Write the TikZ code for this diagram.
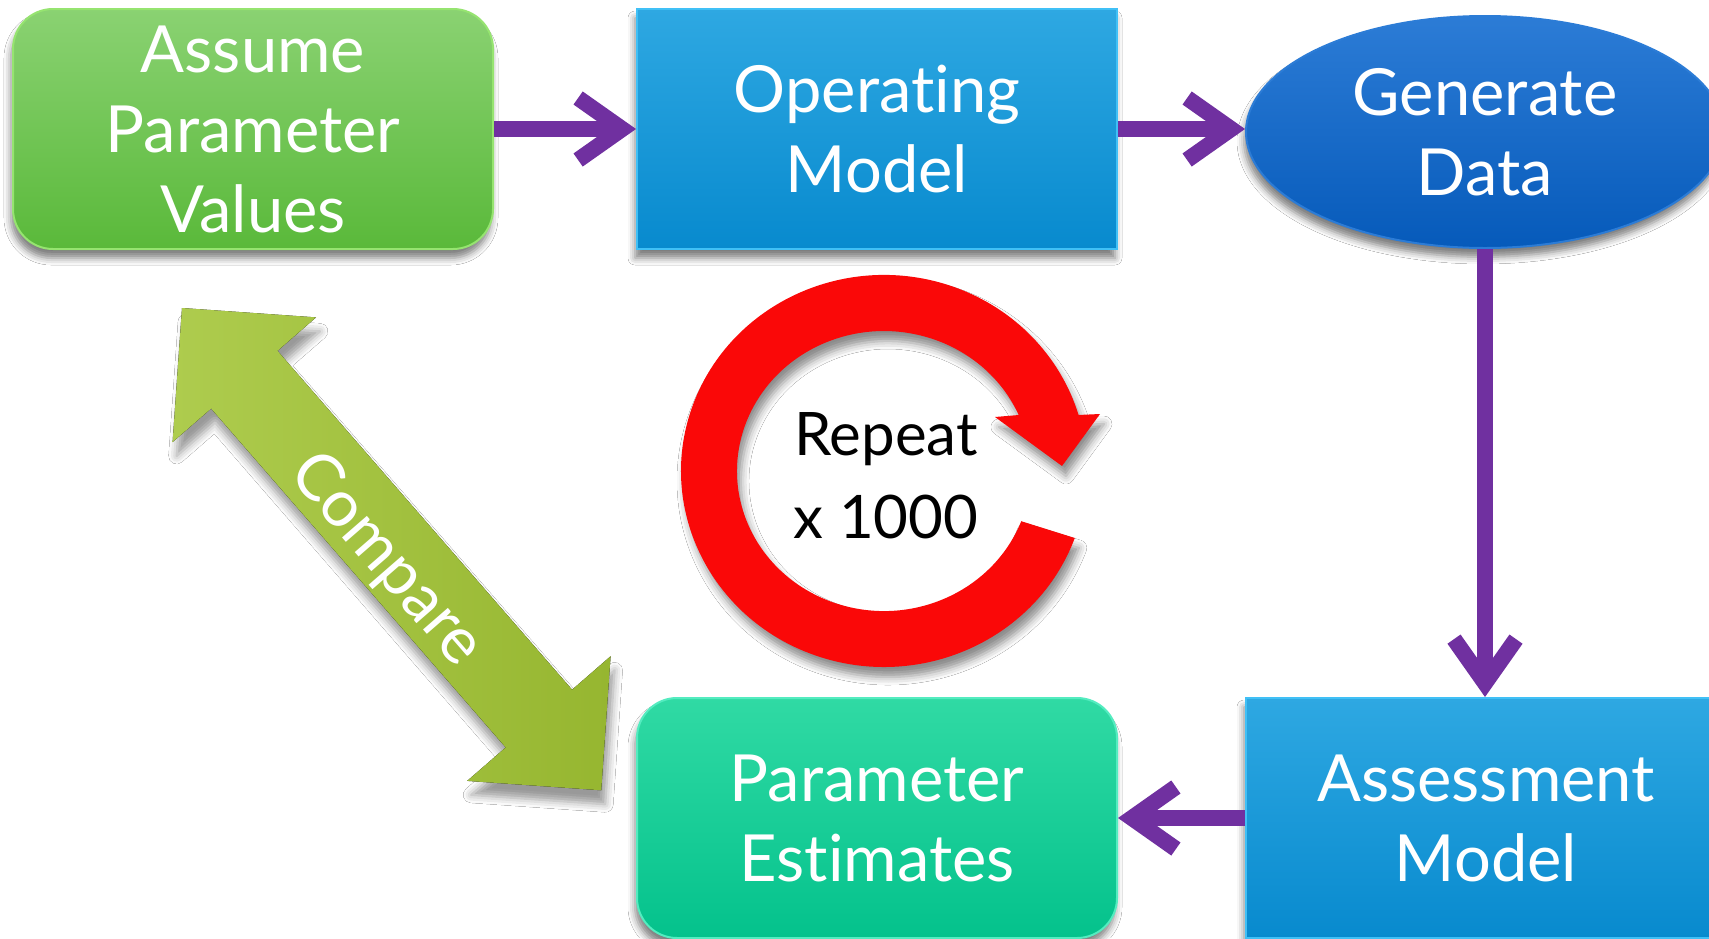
\documentclass[tikz,border=0pt]{standalone}
\usepackage{fontspec}
\setmainfont{Lato}[Ligatures={NoCommon,NoContextual}]
\usetikzlibrary{arrows.meta,shapes.geometric,shadows.blur}

\definecolor{flowpurple}{RGB}{112,48,160}
\definecolor{greentop}{RGB}{138,210,114}
\definecolor{greenbot}{RGB}{90,185,58}
\definecolor{greenedge}{RGB}{150,228,112}
\definecolor{bluetop}{RGB}{46,168,226}
\definecolor{bluebot}{RGB}{8,138,206}
\definecolor{blueedge}{RGB}{64,192,246}
\definecolor{navytop}{RGB}{44,124,214}
\definecolor{navybot}{RGB}{6,90,186}
\definecolor{tealtop}{RGB}{48,218,164}
\definecolor{tealbot}{RGB}{4,194,140}
\definecolor{tealedge}{RGB}{84,236,192}
\definecolor{limetop}{RGB}{174,204,78}
\definecolor{limebot}{RGB}{150,182,48}
\definecolor{ringred}{RGB}{250,8,8}

\begin{document}
\begin{tikzpicture}[x=1pt,y=1pt,
  every node/.style={inner sep=0pt},
  softshadow/.style={blur shadow={shadow xshift=-2pt, shadow yshift=-9pt,
      shadow blur radius=7pt, shadow opacity=50}},
  stage/.style={minimum width=480pt, minimum height=240pt, text=white,
      align=center, font=\fontsize{65}{80}\selectfont, softshadow, line width=2pt},
  roundstage/.style={stage, rounded corners=40pt},
  flow/.style={draw=flowpurple, line width=16pt,
      -{Straight Barb[length=44pt, width=62pt, line width=16pt]}},
]
\useasboundingbox (0,0) rectangle (1709,-938);
\clip (0,0) rectangle (1709,-938);
\fill[white] (0,0) rectangle (1709,-938);

% double-headed "Compare" block arrow
\begin{scope}[shift={(182,-308)}, rotate=-49]
  \fill[left color=limetop, right color=limebot,
        blur shadow={shadow xshift=4pt, shadow yshift=-14pt, shadow blur radius=8pt, shadow opacity=40}]
    (0,0) -- (95,95) -- (95,44) -- (544,44) -- (544,95) -- (639,0)
    -- (544,-95) -- (544,-44) -- (95,-44) -- (95,-95) -- cycle;
\end{scope}
\node[rotate=-49, text=white, font=\fontsize{65}{80}\selectfont] (cmp) at (386,-560) {Compare};

% red circular "repeat" arrow
\fill[ringred, blur shadow={shadow xshift=4pt, shadow yshift=-10pt, shadow blur radius=8pt, shadow opacity=45}]
  (1074.8,-538.0) arc[start angle=-20, end angle=-343.4, x radius=203, y radius=196]
  -- (1100,-414) -- (1062,-466) -- (995,-417) -- (1018.7,-415.0)
  arc[start angle=23.6, end angle=339, x radius=147, y radius=140] -- cycle;
\node[font=\fontsize{60}{83}\selectfont, align=center] (rep) at (886,-476) {Repeat\\x 1000};

% process stages
\node[roundstage, top color=greentop, bottom color=greenbot, draw=greenedge] (apv) at (253,-129) {Assume\\Parameter\\Values};
\node[stage, top color=bluetop, bottom color=bluebot, draw=blueedge] (om) at (877,-129) {Operating\\Model};
\node[stage, ellipse, minimum width=478pt, minimum height=232pt, top color=navytop, bottom color=navybot, draw=navytop] (gd) at (1485,-132) {Generate\\Data};
\node[stage, top color=bluetop, bottom color=bluebot, draw=blueedge] (am) at (1486,-818) {Assessment\\Model};
\node[roundstage, top color=tealtop, bottom color=tealbot, draw=tealedge] (pe) at (877,-818) {Parameter\\Estimates};

% flow connectors
\draw[flow] (apv.east) -- (om.west);
\draw[flow] (om.east) -- (om.east -| gd.west);
\draw[flow] (gd.south) -- (gd.south |- am.north);
\draw[flow] (am.west) -- (pe.east);
\end{tikzpicture}
\end{document}
